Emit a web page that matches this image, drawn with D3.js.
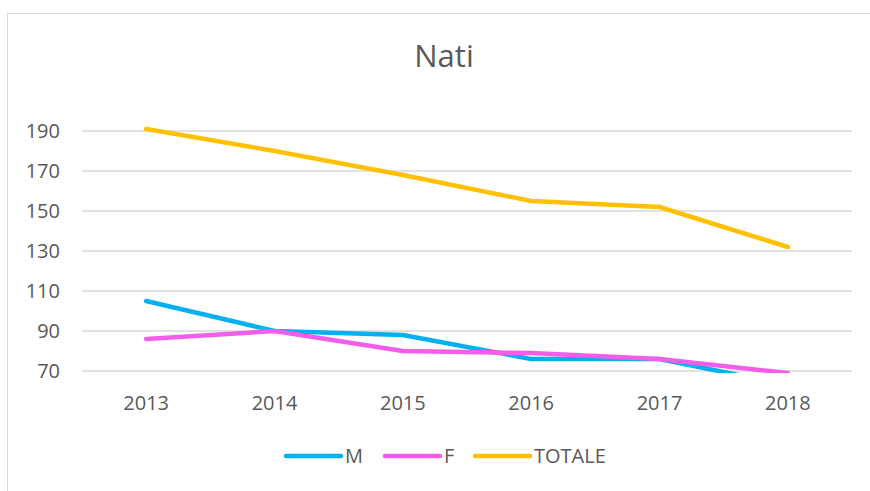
<!DOCTYPE html>
<html>
<head>
<meta charset="utf-8">
<script src="https://cdn.jsdelivr.net/npm/d3@7"></script>
<style>
  body { margin: 0; background: #fff; }
  text { font-family: "Open Sans", "Liberation Sans", sans-serif; fill: #595959; }
</style>
</head>
<body>
<svg id="chart" width="870" height="491"></svg>
<script>
// data
const years = ['2013', '2014', '2015', '2016', '2017', '2018'];
const maschi = [105, 90, 88, 76, 76, 63];
const femmine = [86, 90, 80, 79, 76, 69];
const totale = [191, 180, 168, 155, 152, 132];
const yTicks = [70, 90, 110, 130, 150, 170, 190];

const series = [
  {name: 'M', values: maschi, color: '#00B0F0'},
  {name: 'F', values: femmine, color: '#F25EE9'},
  {name: 'TOTALE', values: totale, color: '#FFC000'}
];

const svg = d3.select('#chart');

// chart frame (only left/top edges fall inside the window)
svg.append('rect')
  .attr('x', 7.5).attr('y', 13.5)
  .attr('width', 900).attr('height', 600)
  .attr('fill', 'none')
  .attr('stroke', '#d9d9d9');

const plotLeft = 82, plotRight = 852, plotTop = 131, plotBottom = 371;

const x = d3.scaleBand().domain(years).range([plotLeft, plotRight]);
const y = d3.scaleLinear().domain([70, 190]).range([plotBottom, plotTop]);

svg.append('text')
  .attr('x', 444).attr('y', 67)
  .attr('text-anchor', 'middle')
  .style('font-size', '31px')
  .text('Nati');

// gridlines
svg.append('g')
  .selectAll('line')
  .data(yTicks)
  .join('line')
  .attr('x1', plotLeft).attr('x2', plotRight)
  .attr('y1', d => y(d)).attr('y2', d => y(d))
  .attr('stroke', '#d9d9d9')
  .attr('stroke-width', 1.3);

// y axis labels
const yAxis = svg.append('g')
  .attr('transform', `translate(${plotLeft - 22},0)`)
  .call(d3.axisLeft(y).tickValues(yTicks).tickSize(0).tickPadding(0));
yAxis.select('.domain').remove();
yAxis.selectAll('text')
  .style('font-size', '20px')
  .attr('fill', '#595959')
  .style('font-family', '"Open Sans", sans-serif');

// x axis labels
const xAxis = svg.append('g')
  .attr('transform', `translate(0,${plotBottom + 39})`)
  .call(d3.axisBottom(x).tickSize(0).tickPadding(0));
xAxis.select('.domain').remove();
xAxis.selectAll('text')
  .style('font-size', '20px')
  .attr('fill', '#595959')
  .attr('dy', '0')
  .style('font-family', '"Open Sans", sans-serif');

svg.append('clipPath').attr('id', 'plot')
  .append('rect')
  .attr('x', 0).attr('y', 0)
  .attr('width', 870).attr('height', plotBottom + 2);

const line = d3.line()
  .x((d, i) => x(years[i]) + x.bandwidth() / 2)
  .y(d => y(d));

svg.append('g')
  .attr('clip-path', 'url(#plot)')
  .selectAll('path')
  .data(series)
  .join('path')
  .attr('d', d => line(d.values))
  .attr('fill', 'none')
  .attr('stroke', d => d.color)
  .attr('stroke-width', 4.5)
  .attr('stroke-linecap', 'round')
  .attr('stroke-linejoin', 'round');

// legend
const legendX = [286, 385, 475];
const legend = svg.append('g')
  .selectAll('g')
  .data(series)
  .join('g')
  .attr('transform', (d, i) => `translate(${legendX[i]},456)`);
legend.append('line')
  .attr('x1', 0).attr('x2', 55)
  .attr('stroke', d => d.color)
  .attr('stroke-width', 4.5)
  .attr('stroke-linecap', 'round');
legend.append('text')
  .attr('x', 59)
  .attr('dy', '0.36em')
  .style('font-size', '20px')
  .text(d => d.name);
</script>
</body>
</html>
